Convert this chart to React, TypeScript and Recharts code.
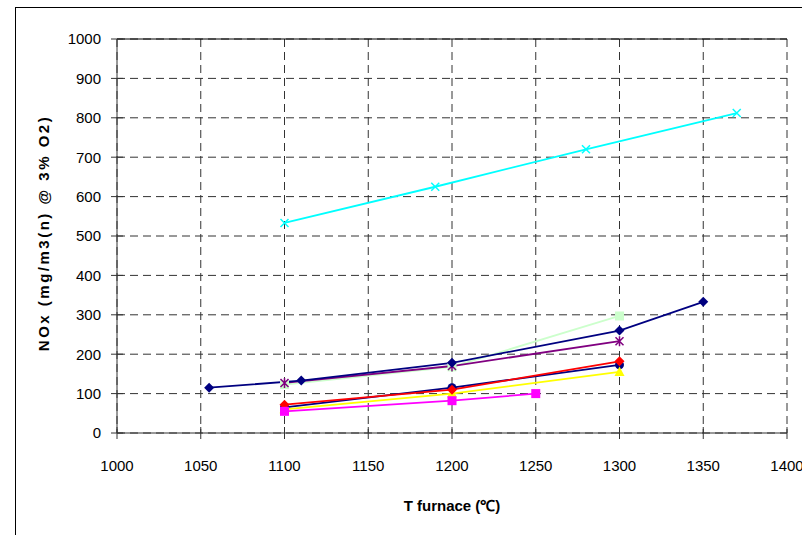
import { CartesianGrid, Line, LineChart, ReferenceLine, XAxis, YAxis } from 'recharts'

// furnace temperature (°C) and NOx (mg/m3(n) @ 3% O2) per series
const navyT = [1055, 1110, 1200, 1300, 1350]
const navyNox = [115, 133, 178, 260, 333]
const navy2T = [1100, 1200, 1300]
const navy2Nox = [65, 115, 173]
const redT = [1100, 1200, 1300]
const redNox = [72, 110, 182]
const yellowT = [1100, 1200, 1300]
const yellowNox = [60, 100, 155]
const magentaT = [1100, 1200, 1250]
const magentaNox = [55, 82, 100]
const cyanT = [1100, 1190, 1280, 1370]
const cyanNox = [533, 625, 720, 812]
const purpleT = [1100, 1200, 1300]
const purpleNox = [127, 170, 233]
const greenT = [1100, 1200, 1300]
const greenNox = [123, 168, 297]

const xTicks = [1000, 1050, 1100, 1150, 1200, 1250, 1300, 1350, 1400]
const yTicks = [0, 100, 200, 300, 400, 500, 600, 700, 800, 900, 1000]

const toRows = (t: number[], v: number[]) => t.map((x, i) => ({ t: x, nox: v[i] }))

const FONT = '"Liberation Sans", Arial, sans-serif'
const TICK_SIZE = 6
const X_MARGIN = 21
const Y_MARGIN = 10

function XTick({ x, y, payload }: any) {
  const axisY = y - TICK_SIZE - X_MARGIN
  return (
    <g>
      <line x1={x} x2={x} y1={axisY - 6} y2={axisY + 6} stroke="#333" />
      <text x={x} y={y} dy="0.71em" textAnchor="middle" fontFamily={FONT} fontSize={15} fill="#000">
        {payload.value}
      </text>
    </g>
  )
}

function YTick({ x, y, payload }: any) {
  const axisX = x + TICK_SIZE + Y_MARGIN
  return (
    <g>
      <line x1={axisX - 6} x2={axisX + 6} y1={y} y2={y} stroke="#333" />
      <text x={x} y={y} dy="0.36em" textAnchor="end" fontFamily={FONT} fontSize={15} fill="#000">
        {payload.value}
      </text>
    </g>
  )
}

type Shape = 'diamond' | 'circle' | 'square' | 'triangle' | 'x' | 'star'

function marker(shape: Shape, color: string) {
  return (p: any) => {
    const { cx, cy, index } = p
    const k = `m-${index}`
    if (cx == null || cy == null) return <g key={k} />
    if (shape === 'diamond')
      return <path key={k} d={`M${cx},${cy - 5} L${cx + 5},${cy} L${cx},${cy + 5} L${cx - 5},${cy} Z`} fill={color} />
    if (shape === 'circle') return <circle key={k} cx={cx} cy={cy} r={4.5} fill={color} />
    if (shape === 'square') return <rect key={k} x={cx - 4.5} y={cy - 4.5} width={9} height={9} fill={color} />
    if (shape === 'triangle')
      return <path key={k} d={`M${cx},${cy - 5.5} L${cx + 5},${cy + 4} L${cx - 5},${cy + 4} Z`} fill={color} />
    if (shape === 'x')
      return (
        <path key={k} d={`M${cx - 4},${cy - 4} L${cx + 4},${cy + 4} M${cx - 4},${cy + 4} L${cx + 4},${cy - 4}`} stroke={color} strokeWidth={1.5} />
      )
    return (
      <path
        key={k}
        d={`M${cx - 4},${cy - 4} L${cx + 4},${cy + 4} M${cx - 4},${cy + 4} L${cx + 4},${cy - 4} M${cx},${cy - 5} L${cx},${cy + 5}`}
        stroke={color}
        strokeWidth={1.5}
      />
    )
  }
}

const series: { key: string; data: { t: number; nox: number }[]; color: string; shape: Shape }[] = [
  { key: 'green', data: toRows(greenT, greenNox), color: '#ccffcc', shape: 'square' },
  { key: 'purple', data: toRows(purpleT, purpleNox), color: '#800080', shape: 'star' },
  { key: 'cyan', data: toRows(cyanT, cyanNox), color: '#00ffff', shape: 'x' },
  { key: 'navy2', data: toRows(navy2T, navy2Nox), color: '#000080', shape: 'circle' },
  { key: 'yellow', data: toRows(yellowT, yellowNox), color: '#ffff00', shape: 'triangle' },
  { key: 'red', data: toRows(redT, redNox), color: '#ff0000', shape: 'diamond' },
  { key: 'magenta', data: toRows(magentaT, magentaNox), color: '#ff00ff', shape: 'square' },
  { key: 'navy', data: toRows(navyT, navyNox), color: '#000080', shape: 'diamond' },
]

export default function App() {
  return (
    <div style={{ position: 'fixed', left: 0, top: 0, width: 802, height: 535, overflow: 'hidden', background: '#fff' }}>
      <div style={{ position: 'absolute', left: 15, top: 7, width: 840, height: 600, border: '1px solid #000' }} />
      <div style={{ position: 'absolute', left: 0, top: 0 }}>
        <LineChart width={802} height={535} margin={{ top: 39, right: 15, bottom: 62, left: 57 }}>
          <CartesianGrid stroke="#333" strokeDasharray="8 5" />
          <XAxis
            type="number"
            dataKey="t"
            domain={[1000, 1400]}
            ticks={xTicks}
            allowDuplicatedCategory={false}
            height={40}
            tickSize={TICK_SIZE}
            tickMargin={X_MARGIN}
            tickLine={false}
            tick={<XTick />}
            stroke="#333"
            interval={0}
            label={{
              value: 'T furnace (℃)',
              position: 'bottom',
              offset: 27,
              style: { fontFamily: FONT, fontSize: 15, fontWeight: 'bold', fill: '#000' },
            }}
          />
          <YAxis
            type="number"
            domain={[0, 1000]}
            ticks={yTicks}
            width={60}
            tickSize={TICK_SIZE}
            tickMargin={Y_MARGIN}
            tickLine={false}
            tick={<YTick />}
            stroke="#333"
            interval={0}
            label={{
              content: ({ viewBox }: any) => (
                <text
                  x={viewBox.x - 14}
                  y={viewBox.y + viewBox.height / 2 - 3}
                  transform={`rotate(-90 ${viewBox.x - 14} ${viewBox.y + viewBox.height / 2 - 3})`}
                  textAnchor="middle"
                  dominantBaseline="central"
                  fontFamily={FONT}
                  fontSize={15}
                  fontWeight="bold"
                  letterSpacing={2.5}
                  fill="#000"
                >
                  NOx (mg/m3(n) @ 3% O2)
                </text>
              ),
            }}
          />
          <ReferenceLine y={1000} stroke="#000" />
          {series.map((s) => (
            <Line
              key={s.key}
              data={s.data}
              dataKey="nox"
              stroke={s.color}
              strokeWidth={1.8}
              dot={marker(s.shape, s.color)}
              activeDot={false}
              isAnimationActive={false}
              legendType="none"
            />
          ))}
        </LineChart>
      </div>
    </div>
  )
}
